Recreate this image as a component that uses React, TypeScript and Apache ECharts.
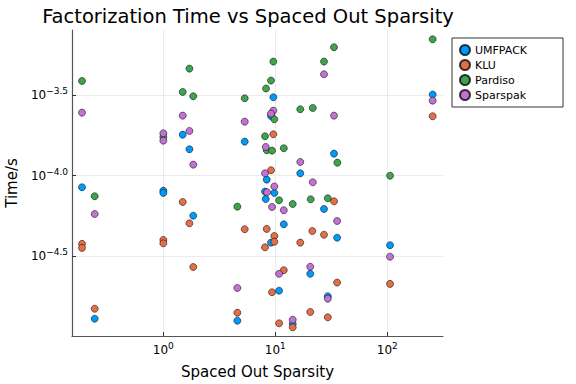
import React, { useEffect, useRef } from "react";
import * as echarts from "echarts";

const seriesNames = ["UMFPACK", "KLU", "Pardiso", "Sparspak"];
const seriesColors = ["#009AFA", "#E36F47", "#3EA44E", "#C371D2"];

const umfpackSparsity = [0.188, 0.244, 1.0, 1.0, 1.49, 1.71, 1.85, 4.58, 5.33, 9.6, 9.15, 8.38, 8.09, 9.8, 8.21, 16.7, 33.4, 27.2, 11.9, 35.6, 9.15, 105.7, 20.5, 10.8, 29.4, 14.3, 254];
const umfpackTime = [8.46e-5, 1.288e-5, 8.06e-5, 7.8e-5, 1.798e-4, 1.459e-4, 5.63e-5, 1.251e-5, 1.627e-4, 3.073e-4, 2.35e-4, 9.44e-5, 7.95e-5, 7.8e-5, 7.15e-5, 1.034e-4, 1.37e-4, 6.2e-5, 4.98e-5, 4.11e-5, 3.83e-5, 3.69e-5, 2.45e-5, 1.924e-5, 1.775e-5, 1.194e-5, 3.19e-4];

const kluSparsity = [0.188, 0.188, 0.244, 1.0, 1.0, 1.49, 1.71, 1.85, 4.58, 5.33, 9.6, 9.15, 254, 33.4, 8.38, 21.4, 27.2, 9.8, 9.8, 8.09, 16.7, 11.9, 35.6, 105.7, 9.34, 20.5, 29.4, 10.8, 14.3];
const kluTime = [3.76e-5, 3.55e-5, 1.486e-5, 3.98e-5, 3.79e-5, 6.85e-5, 5.05e-5, 2.7e-5, 1.404e-5, 4.64e-5, 1.808e-4, 1.08e-4, 2.34e-4, 6.92e-5, 4.66e-5, 4.52e-5, 4.29e-5, 4.21e-5, 3.88e-5, 3.58e-5, 3.83e-5, 2.58e-5, 2.16e-5, 2.12e-5, 1.88e-5, 1.418e-5, 1.314e-5, 1.206e-5, 1.138e-5];

const pardisoSparsity = [0.188, 0.244, 1.0, 1.49, 1.71, 1.85, 4.58, 5.33, 254, 33.4, 9.6, 27.2, 9.15, 8.26, 16.7, 21.6, 9.8, 8.09, 8.38, 9.34, 11.9, 35.8, 105.7, 10.8, 14.3, 20.7, 29.4];
const pardisoTime = [3.88e-4, 7.44e-5, 1.74e-4, 3.315e-4, 4.63e-4, 3.117e-4, 6.41e-5, 3.029e-4, 7.05e-4, 6.29e-4, 5.12e-4, 5.12e-4, 3.9e-4, 3.48e-4, 2.588e-4, 2.636e-4, 2.242e-4, 1.757e-4, 1.438e-4, 1.43e-4, 1.48e-4, 1.204e-4, 9.99e-5, 7.02e-5, 6.66e-5, 7.12e-5, 7.23e-5];

const sparspakSparsity = [0.188, 0.244, 1.0, 1.0, 1.49, 1.71, 1.85, 4.58, 5.33, 27.2, 254, 9.6, 9.15, 33.4, 8.21, 16.7, 8.09, 9.8, 21.6, 8.43, 9.34, 11.9, 35.6, 105.7, 10.8, 20.5, 29.4, 14.3];
const sparspakTime = [2.464e-4, 5.77e-5, 1.834e-4, 1.65e-4, 2.361e-4, 1.896e-4, 1.17e-4, 2.0e-5, 2.166e-4, 4.27e-4, 2.927e-4, 2.536e-4, 2.429e-4, 2.361e-4, 1.508e-4, 1.216e-4, 1.034e-4, 8.56e-5, 9.09e-5, 7.88e-5, 6.38e-5, 6.09e-5, 5.22e-5, 3.13e-5, 2.45e-5, 2.71e-5, 1.715e-5, 1.269e-5];

const xTickExponents = [0, 1, 2];
const yTickExponents = [-4.5, -4.0, -3.5];
const xRange = [0.153, 314];
const yRange = [1.005e-5, 8.05e-4];

const FONT = "DejaVu Sans";

function fmtExp(v: number, digits: number) {
  const s = v.toFixed(digits);
  return s.replace("-", "\u2212");
}

export default function App() {
  const ref = useRef<HTMLDivElement>(null);
  useEffect(() => {
    if (!ref.current) return;
    const chart = echarts.init(ref.current, undefined, { renderer: "svg" });
    const xs = [umfpackSparsity, kluSparsity, pardisoSparsity, sparspakSparsity];
    const ys = [umfpackTime, kluTime, pardisoTime, sparspakTime];
    const series = seriesNames.map((name, k) => ({
      name,
      type: "scatter",
      symbol: "circle",
      symbolSize: 7,
      data: xs[k].map((x, i) => [Math.log10(x), Math.log10(ys[k][i])]),
      itemStyle: { color: seriesColors[k], borderColor: "rgba(0,0,0,0.75)", borderWidth: 0.7, opacity: 1 },
      emphasis: { disabled: true },
    }));
    const rich = {
      b: { fontSize: 12, fontFamily: FONT, color: "#000" },
      s: { fontSize: 9, fontFamily: FONT, color: "#000", padding: [0, 0, 8, 0] },
    };
    chart.setOption({
      animation: false,
      backgroundColor: "#fff",
      title: {
        text: "Factorization Time vs Spaced Out Sparsity",
        left: 243,
        textAlign: "center",
        top: 1,
        textStyle: { fontFamily: FONT, fontSize: 19.5, fontWeight: "normal", color: "#000" },
      },
      grid: { left: 72, right: 133, top: 30, bottom: 48, containLabel: false, outerBoundsMode: "none" },
      legend: {
        orient: "vertical",
        left: 452,
        top: 38,
        padding: [6, 36, 6, 7],
        borderColor: "#333",
        borderWidth: 1,
        itemGap: 3,
        itemWidth: 10,
        itemHeight: 10,
        icon: "circle",
        textStyle: { fontFamily: FONT, fontSize: 11, color: "#000", padding: [0, 0, 0, 0] },
        data: seriesNames,
      },
      xAxis: {
        type: "value",
        min: Math.log10(xRange[0]),
        max: Math.log10(xRange[1]),
        name: "Spaced Out Sparsity",
        nameLocation: "middle",
        nameGap: 28,
        nameTextStyle: { fontFamily: FONT, fontSize: 15, color: "#000" },
        axisLine: { show: true, onZero: false, lineStyle: { color: "#555", width: 1.2 } },
        axisTick: { show: true, inside: true, length: 4, customValues: xTickExponents, lineStyle: { color: "#333" } },
        axisLabel: {
          customValues: xTickExponents,
          formatter: (v: number) => `{b|10}{s|${fmtExp(v, 0)}}`,
          rich,
          margin: 5,
        },
        splitLine: { show: true, lineStyle: { color: "#ebebeb", width: 1 } },
      },
      yAxis: {
        type: "value",
        min: Math.log10(yRange[0]),
        max: Math.log10(yRange[1]),
        name: "Time/s",
        nameLocation: "middle",
        nameGap: 52,
        nameTextStyle: { fontFamily: FONT, fontSize: 15, color: "#000" },
        axisLine: { show: true, onZero: false, lineStyle: { color: "#555", width: 1.2 } },
        axisTick: { show: true, inside: true, length: 4, customValues: yTickExponents, lineStyle: { color: "#333" } },
        axisLabel: {
          customValues: yTickExponents,
          formatter: (v: number) => `{b|10}{s|${fmtExp(v, 1)}}`,
          rich,
          margin: 4,
        },
        splitLine: { show: true, lineStyle: { color: "#ebebeb", width: 1 } },
      },
      series,
    });
    return () => chart.dispose();
  }, []);
  return <div ref={ref} style={{ position: "fixed", left: 0, top: 0, width: 576, height: 384 }} />;
}
